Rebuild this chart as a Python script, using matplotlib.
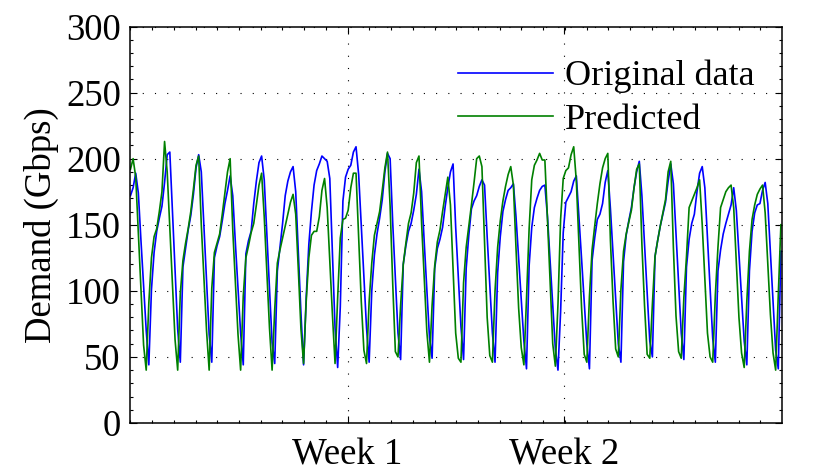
import numpy as np
import matplotlib.pyplot as plt
from matplotlib.ticker import MultipleLocator

plt.rcParams['font.family'] = ['Liberation Serif', 'DejaVu Serif']

# demand in Gbps, sampled every 2 hours (12 samples per daily cycle)
original = [
    172, 178, 189, 174, 138, 104, 70, 44, 101, 129, 145, 155,
    164, 182, 203, 205, 160, 115, 71, 46, 118, 132, 146, 157,
    173, 193, 203, 190, 149, 108, 67, 46, 125, 134, 141, 153,
    166, 176, 187, 172, 136, 102, 68, 44, 128, 138, 145, 166,
    183, 197, 202, 184, 143, 102, 61, 45, 115, 133, 151, 172,
    183, 190, 194, 175, 129, 83, 44, 95, 135, 160, 180, 191,
    196, 202, 200, 198, 185, 128, 72, 42, 88, 168, 186, 192,
    195, 205, 209, 188, 149, 111, 72, 46, 100, 127, 143, 155,
    169, 190, 204, 200, 151, 110, 68, 48, 120, 134, 145, 151,
    161, 173, 192, 175, 137, 101, 65, 49, 117, 132, 139, 148,
    164, 178, 190, 196, 148, 110, 73, 48, 117, 142, 162, 168,
    172, 179, 184, 180, 141, 104, 68, 46, 114, 141, 160, 169,
    176, 178, 181, 156, 125, 94, 62, 41, 119, 148, 163, 170,
    176, 179, 180, 156, 123, 89, 56, 40, 84, 144, 167, 171,
    175, 183, 187, 156, 124, 92, 60, 41, 123, 140, 154, 158,
    166, 182, 191, 162, 128, 94, 60, 46, 122, 142, 153, 163,
    178, 190, 198, 172, 135, 99, 62, 50, 126, 138, 149, 158,
    167, 183, 196, 181, 143, 105, 68, 48, 118, 139, 151, 158,
    175, 189, 194, 178, 140, 102, 64, 46, 115, 131, 143, 151,
    158, 165, 178, 161, 128, 95, 62, 44, 115, 145, 159, 165,
    166, 176, 182, 166, 129, 92, 55, 41, 130,
]
predicted = [
    192, 200, 186, 144, 101, 59, 40, 91, 125, 141, 147, 160,
    175, 213, 190, 148, 105, 63, 40, 98, 123, 136, 147, 160,
    177, 195, 202, 150, 110, 70, 40, 102, 129, 136, 143, 158,
    174, 190, 200, 146, 107, 67, 40, 96, 125, 134, 144, 151,
    165, 180, 189, 156, 114, 72, 40, 86, 121, 131, 140, 149,
    158, 167, 173, 158, 116, 71, 45, 92, 125, 142, 145, 145,
    156, 176, 185, 163, 123, 82, 45, 95, 140, 154, 155, 161,
    178, 189, 189, 140, 92, 55, 45, 92, 121, 142, 151, 160,
    176, 193, 205, 164, 105, 54, 50, 89, 120, 136, 151, 159,
    174, 197, 202, 151, 110, 69, 46, 89, 119, 137, 146, 160,
    173, 186, 165, 117, 68, 49, 46, 106, 133, 149, 165, 182,
    200, 202, 194, 137, 80, 51, 46, 100, 133, 153, 168, 179,
    188, 194, 180, 132, 87, 57, 44, 94, 147, 184, 195, 199,
    204, 199, 199, 154, 107, 60, 43, 90, 154, 185, 191, 193,
    203, 209, 183, 135, 87, 52, 46, 96, 131, 149, 166, 181,
    193, 200, 204, 138, 92, 56, 50, 101, 130, 143, 152, 161,
    178, 192, 196, 135, 89, 52, 49, 90, 126, 138, 149, 159,
    169, 190, 198, 133, 81, 54, 49, 95, 126, 163, 168, 173,
    178, 184, 150, 109, 68, 50, 46, 97, 133, 163, 169, 175,
    178, 180, 163, 121, 80, 53, 42, 92, 130, 154, 165, 173,
    177, 180, 159, 120, 82, 53, 40, 97, 150,
]

week_pos = [82.8, 165.4]
week_labels = ['Week 1', 'Week 2']

x = np.arange(len(original))

fig = plt.figure(figsize=(8.3, 4.75), dpi=100)
ax = fig.add_axes([0.1572, 0.1095, 0.7846, 0.8347])

ax.plot(x, original, color='#0000ff', lw=1.2, label='Original data')
ax.plot(x, predicted, color='#008000', lw=1.2, label='Predicted')

ax.set_xlim(0, 248.3)
ax.set_ylim(0, 300)

ax.set_xticks(week_pos)
ax.set_xticklabels(week_labels)
ax.set_xticks(np.arange(0, 248.3, 8.28), minor=True)
ax.set_yticks(range(0, 301, 50))
ax.yaxis.set_minor_locator(MultipleLocator(10))

ax.tick_params(which='both', direction='in', top=True, right=True, width=0.8)
ax.tick_params(which='major', length=5, labelsize=26.5, pad=7)
ax.tick_params(axis='x', which='major', pad=11)
ax.tick_params(which='minor', length=2.5)

ax.grid(True, which='major', color='k', linestyle=(0, (1, 10)), linewidth=0.8)
for s in ax.spines.values():
    s.set_linewidth(1.1)

ax.set_ylabel('Demand (Gbps)', fontsize=26.5, labelpad=5)

ax.legend(loc='upper left', bbox_to_anchor=(0.5518, 0.874), bbox_transform=fig.transFigure,
          frameon=False, fontsize=26, handlelength=2.63, handletextpad=0.33,
          labelspacing=0.28, borderpad=0, borderaxespad=0)

fig.savefig('out.png', dpi=100)
